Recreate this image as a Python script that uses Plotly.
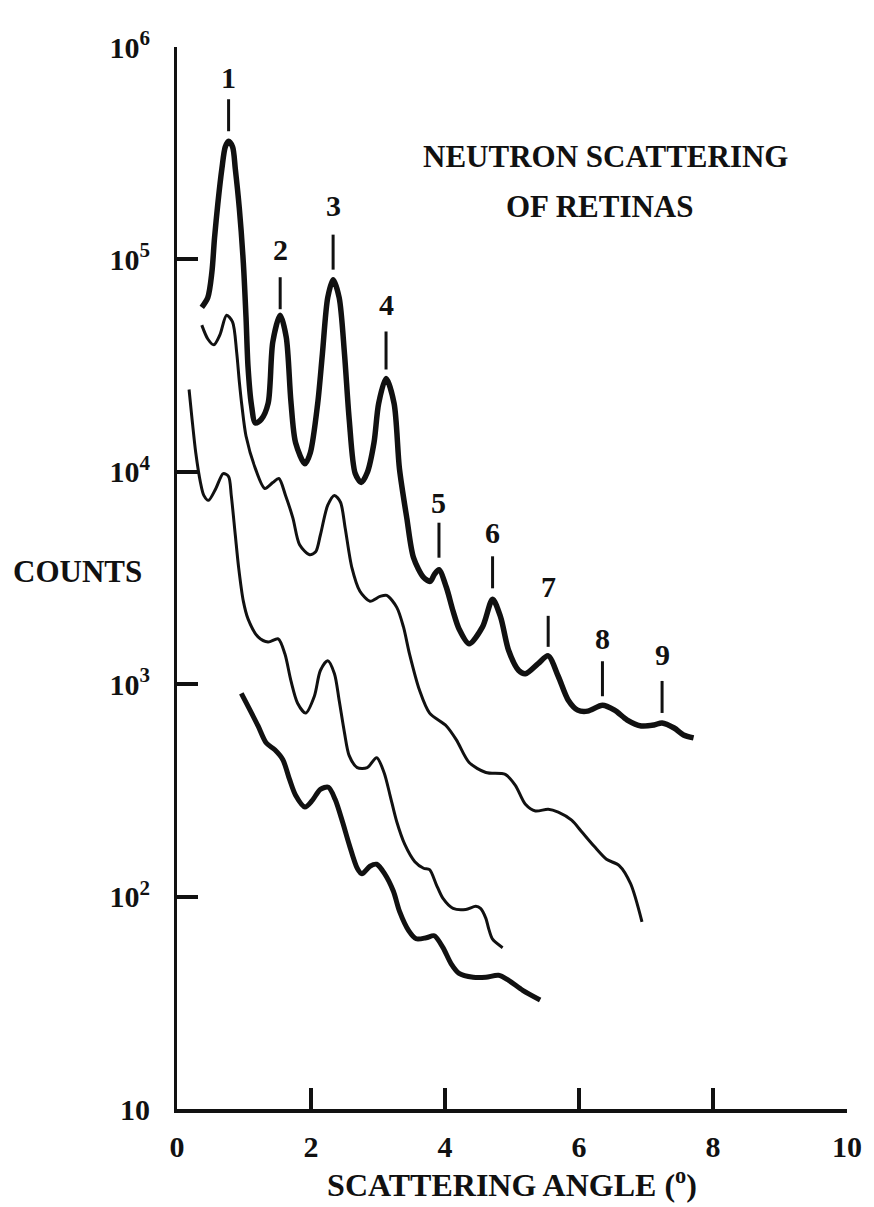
import math
import plotly.graph_objects as go

# Top curve (thick) - shows the numbered diffraction orders
a_angle = [0.37, 0.46, 0.52, 0.56, 0.61, 0.67, 0.72, 0.77, 0.83, 0.87, 0.93, 0.99, 1.03, 1.06,
           1.11, 1.17, 1.26, 1.36, 1.43, 1.54, 1.63, 1.70, 1.77, 1.91, 1.99, 2.10, 2.17, 2.25,
           2.33, 2.42, 2.50, 2.57, 2.66, 2.75, 2.84, 2.94, 3.01, 3.12, 3.24, 3.32, 3.43, 3.53,
           3.68, 3.78, 3.84, 3.91, 4.02, 4.12, 4.21, 4.36, 4.56, 4.71, 4.83, 4.95, 5.10, 5.20,
           5.39, 5.54, 5.69, 5.84, 5.98, 6.13, 6.35, 6.53, 6.72, 6.93, 7.12, 7.24, 7.42, 7.56, 7.71]
a_counts = [59500, 66200, 86600, 126100, 183600, 267300, 338200, 360000, 338200, 267300, 174000,
            96400, 53450, 31240, 20790, 16960, 17700, 21000, 40900, 54600, 43100, 21500, 13700,
            10900, 12300, 21000, 35900, 66200, 80300, 66200, 35900, 17700, 9810, 8910, 9920,
            13700, 21000, 27500, 21000, 10350, 6050, 3940, 3180, 3050, 3280, 3460, 2860, 2210,
            1820, 1550, 1860, 2510, 2070, 1440, 1160, 1120, 1250, 1360, 1090, 840, 755, 747, 796,
            755, 678, 636, 643, 657, 622, 577, 559]

# Second curve (thin)
b_angle = [0.37, 0.46, 0.55, 0.64, 0.74, 0.83, 0.89, 0.93, 0.97, 1.03, 1.17, 1.31, 1.43, 1.52,
           1.62, 1.73, 1.83, 1.98, 2.07, 2.14, 2.25, 2.35, 2.44, 2.51, 2.61, 2.73, 2.88, 3.03,
           3.13, 3.28, 3.38, 3.47, 3.62, 3.77, 4.02, 4.17, 4.36, 4.61, 4.90, 5.05, 5.20, 5.35,
           5.54, 5.69, 5.89, 6.04, 6.23, 6.41, 6.60, 6.77, 6.94]
b_counts = [49050, 42200, 39600, 44100, 54600, 50700, 36700, 26600, 20300, 14750, 10350, 8350,
            8900, 9300, 7740, 6050, 4530, 4070, 4200, 5040, 6960, 7740, 7190, 5440, 3540, 2740,
            2460, 2590, 2620, 2300, 1860, 1390, 936, 731, 636, 547, 428, 384, 376, 334, 272, 253,
            258, 250, 229, 202, 172, 150, 140, 115, 76]

# Third curve (thin)
c_angle = [0.18, 0.22, 0.28, 0.35, 0.40, 0.47, 0.58, 0.69, 0.77, 0.81, 0.87, 0.92, 0.99, 1.06,
           1.21, 1.36, 1.51, 1.61, 1.70, 1.80, 1.92, 2.05, 2.14, 2.25, 2.35, 2.42, 2.50, 2.57,
           2.69, 2.84, 2.98, 3.09, 3.18, 3.28, 3.40, 3.55, 3.68, 3.77, 3.87, 3.97, 4.12, 4.31,
           4.46, 4.53, 4.61, 4.65, 4.71, 4.86]
c_counts = [24400, 18300, 12290, 8910, 7745, 7340, 8350, 9810, 9500, 7745, 5040, 3540, 2460,
            2030, 1670, 1580, 1635, 1390, 1040, 814, 731, 878, 1160, 1290, 1120, 840, 590, 461,
            405, 405, 451, 384, 300, 225, 176, 146, 136, 134, 114, 98, 88, 87, 90, 88, 79, 71,
            63, 57.5]

# Bottom curve (thick)
d_angle = [0.96, 1.09, 1.21, 1.33, 1.46, 1.58, 1.68, 1.77, 1.91, 2.02, 2.14, 2.26, 2.36, 2.47,
           2.57, 2.69, 2.76, 2.88, 2.98, 3.10, 3.23, 3.32, 3.46, 3.57, 3.72, 3.84, 3.97, 4.09,
           4.21, 4.42, 4.61, 4.80, 4.95, 5.16, 5.42]
d_counts = [906, 755, 636, 530, 491, 441, 356, 300, 264, 284, 320, 327, 287, 225, 176, 136, 128,
            139, 142, 128, 106, 85.5, 69, 63.3, 64, 65.4, 57.5, 48.4, 43.5, 41.7, 41.7, 42.6, 40.3,
            36.2, 32.6]

# Numbered orders on the top curve
peak_order = ["1", "2", "3", "4", "5", "6", "7", "8", "9"]
peak_angle = [0.77, 1.54, 2.33, 3.12, 3.91, 4.71, 5.54, 6.35, 7.24]

# Axis ticks
x_tickvals = [0, 2, 4, 6, 8, 10]
x_ticktext = ["0", "2", "4", "6", "8", "10"]
y_tickvals = [10, 100, 1000, 10000, 100000, 1000000]
y_ticktext = ["10", "10<sup>2</sup>", "10<sup>3</sup>", "10<sup>4</sup>",
              "10<sup>5</sup>", "10<sup>6</sup>"]

# Marker geometry (pixels above each peak): number centre, tick start, tick end
label_lift = [64, 66, 74, 74, 67, 67, 69, 67, 68]
tick_gap = [10, 6, 10, 9, 12, 11, 9, 9, 10]
tick_top = [42, 38, 45, 47, 47, 43, 40, 44, 42]

FONT = "Liberation Serif"
INK = "#111111"


def text_font(size):
    return dict(family=FONT, size=size, color=INK, weight="bold")


fig = go.Figure()
curves = [
    (a_angle, a_counts, 5.5),
    (b_angle, b_counts, 3.0),
    (c_angle, c_counts, 3.0),
    (d_angle, d_counts, 5.0),
]
for xs, ys, w in curves:
    fig.add_trace(go.Scatter(
        x=xs, y=ys, mode="lines",
        line=dict(color=INK, width=w, shape="spline", smoothing=0.8),
        showlegend=False, hoverinfo="skip",
    ))

shapes = []
annotations = []
for i, (lab, ang) in enumerate(zip(peak_order, peak_angle)):
    cnt = a_counts[a_angle.index(ang)]
    shapes.append(dict(
        type="line", xref="x", yref="y", ysizemode="pixel", yanchor=cnt,
        x0=ang, x1=ang, y0=tick_gap[i], y1=tick_top[i],
        line=dict(color=INK, width=3),
    ))
    annotations.append(dict(
        x=ang, y=math.log10(cnt), xref="x", yref="y", text=lab, showarrow=False,
        xanchor="center", yanchor="middle", yshift=label_lift[i], font=text_font(30),
    ))

annotations += [
    dict(x=-0.149, y=0.506, xref="paper", yref="paper", text="COUNTS", showarrow=False,
         xanchor="center", yanchor="middle", font=text_font(31)),
    dict(x=0.639, y=0.8966, xref="paper", yref="paper", text="NEUTRON SCATTERING",
         showarrow=False, xanchor="center", yanchor="middle", font=text_font(31)),
    dict(x=0.631, y=0.85, xref="paper", yref="paper", text="OF RETINAS",
         showarrow=False, xanchor="center", yanchor="middle", font=text_font(31)),
]

fig.update_layout(
    width=874, height=1207,
    margin=dict(l=177, r=19, t=47, b=87),
    paper_bgcolor="white", plot_bgcolor="white",
    shapes=shapes, annotations=annotations,
    xaxis=dict(
        range=[0, 10], tickvals=x_tickvals, ticktext=x_ticktext,
        ticks="inside", ticklen=21, tickwidth=4, tickcolor=INK,
        showline=True, linewidth=4, linecolor=INK, showgrid=False, zeroline=False,
        tickfont=text_font(30), ticklabelstandoff=8,
        title=dict(text="SCATTERING ANGLE (<sup>o</sup>)", standoff=10, font=text_font(32)),
    ),
    yaxis=dict(
        type="log", range=[1, 6], tickvals=y_tickvals, ticktext=y_ticktext,
        ticks="inside", ticklen=21, tickwidth=4, tickcolor=INK,
        showline=True, linewidth=3, linecolor=INK, showgrid=False, zeroline=False,
        tickfont=text_font(30), ticklabelstandoff=18,
    ),
)

fig.write_html("out.html")
